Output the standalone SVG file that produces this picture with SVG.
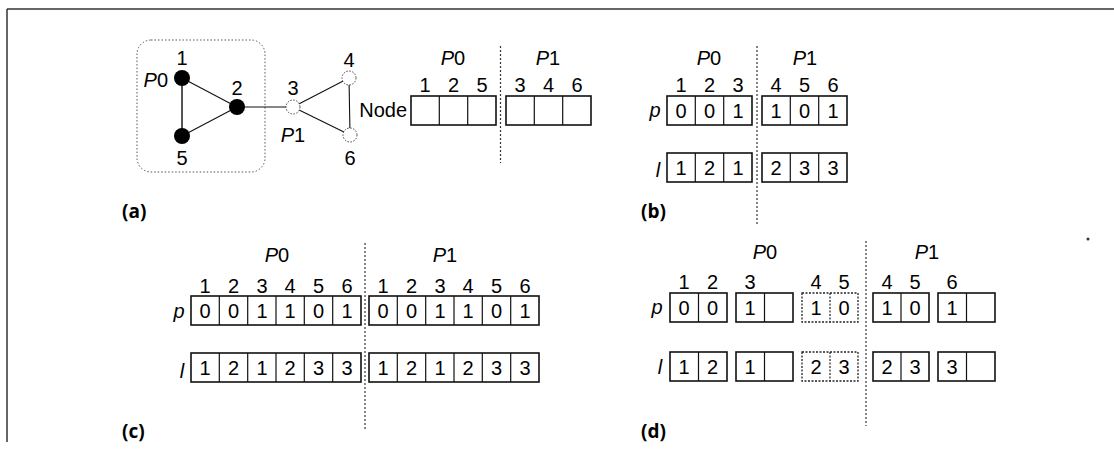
<svg xmlns="http://www.w3.org/2000/svg" width="1114" height="460" viewBox="0 0 1114 460">
<style>
text{font-family:"Liberation Sans Narrow","Arial Narrow","Liberation Sans",sans-serif;font-size:20px;fill:#000;text-anchor:middle}
.it{font-style:italic}
.v{font-size:21px}
.lbl{font-family:"Open Sans","Liberation Sans",sans-serif;font-weight:bold;font-size:19px;text-anchor:start}
.box{fill:#fff;stroke:#111;stroke-width:1.6}
.dash{fill:#fff;stroke:#222;stroke-width:1.3;stroke-dasharray:2 1.5}
.div{stroke:#111;stroke-width:1.2}
.ddiv{stroke:#222;stroke-width:1.2;stroke-dasharray:2 1.5}
.vsep{stroke:#333;stroke-width:1.2;stroke-dasharray:2 2}
.edge{stroke:#111;stroke-width:1.1}
.fill{fill:#000}
.open{fill:#fff;stroke:#444;stroke-width:1;stroke-dasharray:1.5 1.5}
</style>
<g id="frame" stroke="#333" stroke-width="1.5" fill="none">
<line x1="7" y1="9" x2="1114" y2="9"/>
<line x1="7" y1="9" x2="7" y2="442"/>
</g>
<rect id="partition-P0" x="137" y="40" width="128" height="132" rx="14" fill="none" stroke="#555" stroke-width="1" stroke-dasharray="1.5 2"/>
<g id="connectors">
<line class="edge" x1="182" y1="78" x2="237" y2="107"/>
<line class="edge" x1="182" y1="136" x2="237" y2="107"/>
<line x1="182" y1="78" x2="182" y2="136" stroke="#555" stroke-width="2"/>
<line class="edge" x1="237" y1="107" x2="293" y2="107"/>
<line class="edge" x1="293" y1="107" x2="349" y2="78"/>
<line class="edge" x1="293" y1="107" x2="350" y2="135"/>
<line class="edge" x1="349" y1="78" x2="350" y2="135"/>
</g>
<g id="n1"><circle class="fill" cx="182" cy="78" r="8"/><text x="182" y="65">1</text></g>
<g id="n2"><circle class="fill" cx="237" cy="107" r="8"/><text x="237" y="95">2</text></g>
<g id="n5"><circle class="fill" cx="182" cy="136" r="8"/><text x="182" y="165">5</text></g>
<g id="n3"><circle class="open" cx="293" cy="107" r="7"/><text x="293" y="95">3</text></g>
<g id="n4"><circle class="open" cx="349" cy="78" r="7"/><text x="349" y="67">4</text></g>
<g id="n6"><circle class="open" cx="350" cy="135" r="7"/><text x="350" y="165">6</text></g>
<text x="168" y="87" style="text-anchor:end"><tspan class="it">P</tspan>0</text>
<text x="293" y="142"><tspan class="it">P</tspan>1</text>
<g id="a-array">
<text x="407" y="117" style="text-anchor:end">Node</text>
<text x="453" y="65"><tspan class="it">P</tspan>0</text>
<text x="548" y="65"><tspan class="it">P</tspan>1</text>
<text x="425" y="92">1</text><text x="453.5" y="92">2</text><text x="482" y="92">5</text>
<text x="520" y="92">3</text><text x="548.5" y="92">4</text><text x="577" y="92">6</text>
<rect class="box" x="411" y="96" width="85" height="29"/>
<line class="div" x1="439.3" y1="96" x2="439.3" y2="125"/><line class="div" x1="467.7" y1="96" x2="467.7" y2="125"/>
<rect class="box" x="506" y="96" width="85" height="29"/>
<line class="div" x1="534.3" y1="96" x2="534.3" y2="125"/><line class="div" x1="562.7" y1="96" x2="562.7" y2="125"/>
<line class="vsep" x1="500.5" y1="46" x2="500.5" y2="163"/>
</g>
<text class="lbl" x="122" y="218">(a)</text>
<g id="b-arrays">
<text x="709" y="65"><tspan class="it">P</tspan>0</text>
<text x="805" y="65"><tspan class="it">P</tspan>1</text>
<text x="681" y="92">1</text><text x="709.5" y="92">2</text><text x="738" y="92">3</text>
<text x="776" y="92">4</text><text x="804.5" y="92">5</text><text x="833" y="92">6</text>
<text class="it" x="655" y="117">p</text>
<text class="it" x="658" y="177">l</text>
<rect class="box" x="667" y="96" width="85" height="29"/>
<line class="div" x1="695.3" y1="96" x2="695.3" y2="125"/><line class="div" x1="723.7" y1="96" x2="723.7" y2="125"/>
<rect class="box" x="762" y="96" width="85" height="29"/>
<line class="div" x1="790.3" y1="96" x2="790.3" y2="125"/><line class="div" x1="818.7" y1="96" x2="818.7" y2="125"/>
<g class="v">
<text x="681" y="118">0</text><text x="709.5" y="118">0</text><text x="738" y="118">1</text>
<text x="776" y="118">1</text><text x="804.5" y="118">0</text><text x="833" y="118">1</text>
</g>
<rect class="box" x="667" y="153" width="85" height="29"/>
<line class="div" x1="695.3" y1="153" x2="695.3" y2="182"/><line class="div" x1="723.7" y1="153" x2="723.7" y2="182"/>
<rect class="box" x="762" y="153" width="85" height="29"/>
<line class="div" x1="790.3" y1="153" x2="790.3" y2="182"/><line class="div" x1="818.7" y1="153" x2="818.7" y2="182"/>
<g class="v">
<text x="681" y="175">1</text><text x="709.5" y="175">2</text><text x="738" y="175">1</text>
<text x="776" y="175">2</text><text x="804.5" y="175">3</text><text x="833" y="175">3</text>
</g>
<line class="vsep" x1="757" y1="46" x2="757" y2="226"/>
</g>
<text class="lbl" x="641" y="218">(b)</text>
<g id="c-arrays">
<text x="277" y="262"><tspan class="it">P</tspan>0</text>
<text x="445" y="262"><tspan class="it">P</tspan>1</text>
<text x="205" y="293">1</text><text x="233.5" y="293">2</text><text x="262" y="293">3</text><text x="290" y="293">4</text><text x="318.5" y="293">5</text><text x="347" y="293">6</text>
<text x="383" y="293">1</text><text x="411.5" y="293">2</text><text x="440" y="293">3</text><text x="468" y="293">4</text><text x="496.5" y="293">5</text><text x="525" y="293">6</text>
<text class="it" x="179" y="318">p</text>
<text class="it" x="182" y="378">l</text>
<rect class="box" x="191" y="296" width="170" height="29"/>
<rect class="box" x="369" y="296" width="170" height="29"/>
<rect class="box" x="191" y="353" width="170" height="29"/>
<rect class="box" x="369" y="353" width="170" height="29"/>
<g class="div">
<line x1="219.3" y1="296" x2="219.3" y2="325"/><line x1="247.7" y1="296" x2="247.7" y2="325"/><line x1="276" y1="296" x2="276" y2="325"/><line x1="304.3" y1="296" x2="304.3" y2="325"/><line x1="332.7" y1="296" x2="332.7" y2="325"/>
<line x1="397.3" y1="296" x2="397.3" y2="325"/><line x1="425.7" y1="296" x2="425.7" y2="325"/><line x1="454" y1="296" x2="454" y2="325"/><line x1="482.3" y1="296" x2="482.3" y2="325"/><line x1="510.7" y1="296" x2="510.7" y2="325"/>
<line x1="219.3" y1="353" x2="219.3" y2="382"/><line x1="247.7" y1="353" x2="247.7" y2="382"/><line x1="276" y1="353" x2="276" y2="382"/><line x1="304.3" y1="353" x2="304.3" y2="382"/><line x1="332.7" y1="353" x2="332.7" y2="382"/>
<line x1="397.3" y1="353" x2="397.3" y2="382"/><line x1="425.7" y1="353" x2="425.7" y2="382"/><line x1="454" y1="353" x2="454" y2="382"/><line x1="482.3" y1="353" x2="482.3" y2="382"/><line x1="510.7" y1="353" x2="510.7" y2="382"/>
</g>
<g class="v">
<text x="205" y="318">0</text><text x="233.5" y="318">0</text><text x="262" y="318">1</text><text x="290" y="318">1</text><text x="318.5" y="318">0</text><text x="347" y="318">1</text>
<text x="383" y="318">0</text><text x="411.5" y="318">0</text><text x="440" y="318">1</text><text x="468" y="318">1</text><text x="496.5" y="318">0</text><text x="525" y="318">1</text>
<text x="205" y="375">1</text><text x="233.5" y="375">2</text><text x="262" y="375">1</text><text x="290" y="375">2</text><text x="318.5" y="375">3</text><text x="347" y="375">3</text>
<text x="383" y="375">1</text><text x="411.5" y="375">2</text><text x="440" y="375">1</text><text x="468" y="375">2</text><text x="496.5" y="375">3</text><text x="525" y="375">3</text>
</g>
<line class="vsep" x1="365" y1="243" x2="365" y2="430"/>
</g>
<text class="lbl" x="122" y="438">(c)</text>
<g id="d-arrays">
<text x="765" y="259"><tspan class="it">P</tspan>0</text>
<text x="927" y="259"><tspan class="it">P</tspan>1</text>
<text x="684" y="289">1</text><text x="712.5" y="289">2</text><text x="750" y="289">3</text>
<text x="816" y="289">4</text><text x="844" y="289">5</text>
<text x="887" y="289">4</text><text x="915" y="289">5</text><text x="952" y="289">6</text>
<text class="it" x="657" y="314">p</text>
<text class="it" x="660" y="374">l</text>
<rect class="box" x="670" y="293" width="57" height="29"/><line class="div" x1="698.5" y1="293" x2="698.5" y2="322"/>
<rect class="box" x="736" y="293" width="57" height="29"/><line class="div" x1="764.5" y1="293" x2="764.5" y2="322"/>
<rect class="dash" x="802" y="293" width="56" height="29"/><line class="ddiv" x1="830" y1="293" x2="830" y2="322"/>
<rect class="box" x="873" y="293" width="56" height="29"/><line class="div" x1="901" y1="293" x2="901" y2="322"/>
<rect class="box" x="938" y="293" width="57" height="29"/><line class="div" x1="966.5" y1="293" x2="966.5" y2="322"/>
<g class="v">
<text x="684" y="315">0</text><text x="712.5" y="315">0</text><text x="750" y="315">1</text>
<text x="816" y="315">1</text><text x="844" y="315">0</text>
<text x="887" y="315">1</text><text x="915" y="315">0</text><text x="952" y="315">1</text>
</g>
<rect class="box" x="670" y="352" width="57" height="29"/><line class="div" x1="698.5" y1="352" x2="698.5" y2="381"/>
<rect class="box" x="736" y="352" width="57" height="29"/><line class="div" x1="764.5" y1="352" x2="764.5" y2="381"/>
<rect class="dash" x="802" y="352" width="56" height="29"/><line class="ddiv" x1="830" y1="352" x2="830" y2="381"/>
<rect class="box" x="873" y="352" width="56" height="29"/><line class="div" x1="901" y1="352" x2="901" y2="381"/>
<rect class="box" x="938" y="352" width="57" height="29"/><line class="div" x1="966.5" y1="352" x2="966.5" y2="381"/>
<g class="v">
<text x="684" y="374">1</text><text x="712.5" y="374">2</text><text x="750" y="374">1</text>
<text x="816" y="374">2</text><text x="844" y="374">3</text>
<text x="887" y="374">2</text><text x="915" y="374">3</text><text x="952" y="374">3</text>
</g>
<line class="vsep" x1="866" y1="241" x2="866" y2="426"/>
</g>
<text class="lbl" x="641" y="438">(d)</text>
<circle cx="1088" cy="239" r="1.5" fill="#333"/>
</svg>
